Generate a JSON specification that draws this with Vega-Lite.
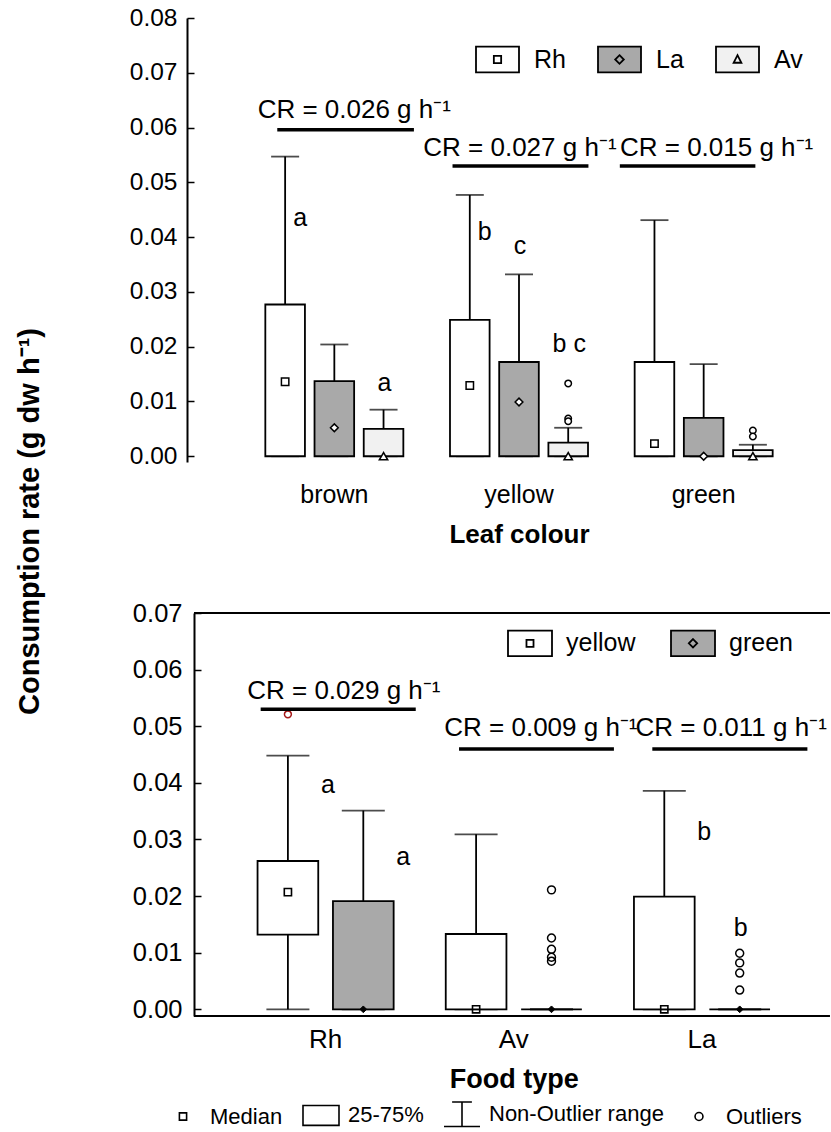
{
  "$schema": "https://vega.github.io/schema/vega-lite/v6.json",
  "padding": {"left": 16, "top": 5, "right": 0, "bottom": 0},
  "background": "white",
  "config": {
    "font": "Liberation Sans",
    "view": {"stroke": null},
    "axis": {"labelFont": "Liberation Sans", "titleFont": "Liberation Sans"},
    "legend": {"labelFont": "Liberation Sans"}
  },
  "title": {"text": "Consumption rate (g dw h⁻¹)", "orient": "left", "anchor": "middle", "fontSize": 29, "fontWeight": "bold", "color": "black", "offset": 84, "dx": 46, "font": "Liberation Sans"},
  "datasets": {
    "top": [
      {"group": "brown", "series": "Rh", "lo": 0, "q1": 0, "med": 0.0136, "q3": 0.0277, "hi": 0.0547},
      {"group": "brown", "series": "La", "lo": 0, "q1": 0, "med": 0.0052, "q3": 0.0137, "hi": 0.0204},
      {"group": "brown", "series": "Av", "lo": 0, "q1": 0, "med": 0, "q3": 0.0050, "hi": 0.0085},
      {"group": "yellow", "series": "Rh", "lo": 0, "q1": 0, "med": 0.0129, "q3": 0.0249, "hi": 0.0477},
      {"group": "yellow", "series": "La", "lo": 0, "q1": 0, "med": 0.0099, "q3": 0.0172, "hi": 0.0332},
      {"group": "yellow", "series": "Av", "lo": 0, "q1": 0, "med": 0, "q3": 0.0025, "hi": 0.0052},
      {"group": "green", "series": "Rh", "lo": 0, "q1": 0, "med": 0.0023, "q3": 0.0172, "hi": 0.0431},
      {"group": "green", "series": "La", "lo": 0, "q1": 0, "med": 0, "q3": 0.0070, "hi": 0.0168},
      {"group": "green", "series": "Av", "lo": 0, "q1": 0, "med": 0, "q3": 0.0011, "hi": 0.0021}
    ],
    "topOut": [
      {"group": "yellow", "series": "Av", "v": 0.0133},
      {"group": "yellow", "series": "Av", "v": 0.0069},
      {"group": "yellow", "series": "Av", "v": 0.0064},
      {"group": "green", "series": "Av", "v": 0.0047},
      {"group": "green", "series": "Av", "v": 0.0036}
    ],
    "topLettersR": [
      {"group": "brown", "series": "Rh", "v": 0.0435, "t": "a"},
      {"group": "yellow", "series": "Rh", "v": 0.0409, "t": "b"}
    ],
    "topLettersC": [
      {"group": "brown", "series": "Av", "v": 0.0134, "t": "a"},
      {"group": "yellow", "series": "La", "v": 0.0384, "t": "c"},
      {"group": "yellow", "series": "Av", "v": 0.0205, "t": "b c"}
    ],
    "bot": [
      {"group": "Rh", "leaf": "yellow", "lo": 0, "q1": 0.0132, "med": 0.0207, "q3": 0.0262, "hi": 0.0448},
      {"group": "Rh", "leaf": "green", "lo": 0, "q1": 0, "med": 0, "q3": 0.0191, "hi": 0.0351},
      {"group": "Av", "leaf": "yellow", "lo": 0, "q1": 0, "med": 0, "q3": 0.0133, "hi": 0.0309},
      {"group": "Av", "leaf": "green", "lo": 0, "q1": 0, "med": 0, "q3": 0, "hi": 0},
      {"group": "La", "leaf": "yellow", "lo": 0, "q1": 0, "med": 0, "q3": 0.0199, "hi": 0.0386},
      {"group": "La", "leaf": "green", "lo": 0, "q1": 0, "med": 0, "q3": 0, "hi": 0}
    ],
    "botOut": [
      {"group": "Av", "leaf": "green", "v": 0.0211},
      {"group": "Av", "leaf": "green", "v": 0.0126},
      {"group": "Av", "leaf": "green", "v": 0.0106},
      {"group": "Av", "leaf": "green", "v": 0.0092},
      {"group": "Av", "leaf": "green", "v": 0.0085},
      {"group": "La", "leaf": "green", "v": 0.0099},
      {"group": "La", "leaf": "green", "v": 0.0082},
      {"group": "La", "leaf": "green", "v": 0.0064},
      {"group": "La", "leaf": "green", "v": 0.0034}
    ],
    "botOutRed": [
      {"group": "Rh", "leaf": "yellow", "v": 0.0521}
    ],
    "botLettersR": [
      {"group": "Rh", "leaf": "yellow", "v": 0.0396, "t": "a"},
      {"group": "Rh", "leaf": "green", "v": 0.0269, "t": "a"},
      {"group": "La", "leaf": "yellow", "v": 0.0313, "t": "b"}
    ],
    "botLettersC": [
      {"group": "La", "leaf": "green", "v": 0.0144, "t": "b"}
    ],
    "botFrame": [
      {"g1": "Rh", "g2": "La", "v": 0.07},
      {"g1": "Rh", "g2": "La", "v": -0.00118}
    ]
  },
  "concat": [
    {
      "width": 644,
      "height": 444,
      "layer": [
        {
          "data": {"name": "top"},
          "mark": {"type": "rule", "color": "black", "strokeWidth": 1.8},
          "encoding": {
            "x": {"field": "group", "type": "nominal", "title": "Leaf colour", "scale": {"domain": ["brown", "yellow", "green"], "range": [55, 609], "paddingInner": 0, "paddingOuter": 0}, "axis": {"domain": false, "ticks": false, "labelFontSize": 25, "labelPadding": 20, "labelAngle": 0, "titleFontSize": 26, "titleFontWeight": "bold", "titlePadding": 14, "labelColor": "black", "titleColor": "black"}},
            "xOffset": {"field": "series", "type": "nominal", "scale": {"domain": ["Rh", "La", "Av"], "paddingInner": 0.195, "paddingOuter": 0.474}},
            "y": {"field": "lo", "type": "quantitative", "title": null, "scale": {"domain": [-0.00105, 0.08], "nice": false, "zero": false}, "axis": {"values": [0, 0.005, 0.01, 0.015, 0.02, 0.025, 0.03, 0.035, 0.04, 0.045, 0.05, 0.055, 0.06, 0.065, 0.07, 0.075, 0.08], "labelExpr": "(abs(datum.value * 100 - round(datum.value * 100)) < 0.001) ? format(datum.value, '.2f') : ''", "tickSize": -7, "tickWidth": 1.5, "domainWidth": 2, "labelFontSize": 24.5, "labelPadding": 17, "grid": false, "labelColor": "black", "tickColor": "black", "domainColor": "black"}},
            "y2": {"field": "hi"}
          }
        },
        {
          "data": {"name": "top"},
          "mark": {"type": "tick", "orient": "horizontal", "size": 28, "thickness": 1.8, "color": "black"},
          "encoding": {
            "x": {"field": "group", "type": "nominal", "title": "Leaf colour", "scale": {"domain": ["brown", "yellow", "green"], "range": [55, 609], "paddingInner": 0, "paddingOuter": 0}},
            "xOffset": {"field": "series", "type": "nominal", "scale": {"domain": ["Rh", "La", "Av"], "paddingInner": 0.195, "paddingOuter": 0.474}},
            "y": {"field": "hi", "type": "quantitative", "title": null, "scale": {"domain": [-0.00105, 0.08], "nice": false, "zero": false}}
          }
        },
        {
          "data": {"name": "top"},
          "mark": {"type": "tick", "orient": "horizontal", "size": 28, "thickness": 1.8, "color": "black"},
          "encoding": {
            "x": {"field": "group", "type": "nominal", "title": "Leaf colour", "scale": {"domain": ["brown", "yellow", "green"], "range": [55, 609], "paddingInner": 0, "paddingOuter": 0}},
            "xOffset": {"field": "series", "type": "nominal", "scale": {"domain": ["Rh", "La", "Av"], "paddingInner": 0.195, "paddingOuter": 0.474}},
            "y": {"field": "lo", "type": "quantitative", "title": null, "scale": {"domain": [-0.00105, 0.08], "nice": false, "zero": false}}
          }
        },
        {
          "data": {"name": "top"},
          "mark": {"type": "bar", "stroke": "black", "strokeWidth": 1.8},
          "encoding": {
            "x": {"field": "group", "type": "nominal", "title": "Leaf colour", "scale": {"domain": ["brown", "yellow", "green"], "range": [55, 609], "paddingInner": 0, "paddingOuter": 0}},
            "xOffset": {"field": "series", "type": "nominal", "scale": {"domain": ["Rh", "La", "Av"], "paddingInner": 0.195, "paddingOuter": 0.474}},
            "y": {"field": "q1", "type": "quantitative", "title": null, "scale": {"domain": [-0.00105, 0.08], "nice": false, "zero": false}},
            "y2": {"field": "q3"},
            "fill": {"field": "series", "type": "nominal", "scale": {"domain": ["Rh", "La", "Av"], "range": ["#ffffff", "#a9a9a9", "#f1f1f1"]},
              "legend": {"orient": "none", "legendX": 288, "legendY": 19, "direction": "horizontal", "title": null, "symbolSize": 1849, "labelFontSize": 25, "labelOffset": 14, "columnPadding": 28, "padding": 0, "labelColor": "black", "symbolStrokeColor": "black", "symbolStrokeWidth": 1.8,
                "encode": {"symbols": {"update": {"stroke": {"value": "black"}, "strokeWidth": {"value": 1.8}, "shape": {"signal": "datum.value === 'Rh' ? 'M-1,-0.6H1V0.6H-1Z M-0.17,-0.17H0.17V0.17H-0.17Z' : (datum.value === 'La' ? 'M-1,-0.6H1V0.6H-1Z M0,-0.2L0.2,0L0,0.2L-0.2,0Z' : 'M-1,-0.6H1V0.6H-1Z M0,-0.2L0.18,0.15H-0.18Z')"}}}}}}
          }
        },
        {
          "data": {"name": "top"},
          "transform": [{"filter": "datum.series === 'Rh'"}],
          "mark": {"type": "point", "shape": "square", "filled": true, "fill": "white", "stroke": "black", "strokeWidth": 1.5, "size": 55, "opacity": 1},
          "encoding": {
            "x": {"field": "group", "type": "nominal", "title": "Leaf colour", "scale": {"domain": ["brown", "yellow", "green"], "range": [55, 609], "paddingInner": 0, "paddingOuter": 0}},
            "xOffset": {"field": "series", "type": "nominal", "scale": {"domain": ["Rh", "La", "Av"], "paddingInner": 0.195, "paddingOuter": 0.474}},
            "y": {"field": "med", "type": "quantitative", "title": null, "scale": {"domain": [-0.00105, 0.08], "nice": false, "zero": false}}
          }
        },
        {
          "data": {"name": "top"},
          "transform": [{"filter": "datum.series === 'La'"}],
          "mark": {"type": "point", "shape": "diamond", "filled": true, "fill": "white", "stroke": "black", "strokeWidth": 1.5, "size": 60, "opacity": 1},
          "encoding": {
            "x": {"field": "group", "type": "nominal", "title": "Leaf colour", "scale": {"domain": ["brown", "yellow", "green"], "range": [55, 609], "paddingInner": 0, "paddingOuter": 0}},
            "xOffset": {"field": "series", "type": "nominal", "scale": {"domain": ["Rh", "La", "Av"], "paddingInner": 0.195, "paddingOuter": 0.474}},
            "y": {"field": "med", "type": "quantitative", "title": null, "scale": {"domain": [-0.00105, 0.08], "nice": false, "zero": false}}
          }
        },
        {
          "data": {"name": "top"},
          "transform": [{"filter": "datum.series === 'Av'"}],
          "mark": {"type": "point", "shape": "triangle-up", "filled": true, "fill": "white", "stroke": "black", "strokeWidth": 1.5, "size": 70, "opacity": 1},
          "encoding": {
            "x": {"field": "group", "type": "nominal", "title": "Leaf colour", "scale": {"domain": ["brown", "yellow", "green"], "range": [55, 609], "paddingInner": 0, "paddingOuter": 0}},
            "xOffset": {"field": "series", "type": "nominal", "scale": {"domain": ["Rh", "La", "Av"], "paddingInner": 0.195, "paddingOuter": 0.474}},
            "y": {"field": "med", "type": "quantitative", "title": null, "scale": {"domain": [-0.00105, 0.08], "nice": false, "zero": false}}
          }
        },
        {
          "data": {"name": "topOut"},
          "mark": {"type": "point", "shape": "circle", "filled": true, "fill": "white", "stroke": "black", "strokeWidth": 1.5, "size": 42, "opacity": 1},
          "encoding": {
            "x": {"field": "group", "type": "nominal", "title": "Leaf colour", "scale": {"domain": ["brown", "yellow", "green"], "range": [55, 609], "paddingInner": 0, "paddingOuter": 0}},
            "xOffset": {"field": "series", "type": "nominal", "scale": {"domain": ["Rh", "La", "Av"], "paddingInner": 0.195, "paddingOuter": 0.474}},
            "y": {"field": "v", "type": "quantitative", "title": null, "scale": {"domain": [-0.00105, 0.08], "nice": false, "zero": false}}
          }
        },
        {
          "data": {"name": "topLettersR"},
          "mark": {"type": "text", "fontSize": 25, "dx": 15, "align": "center", "baseline": "middle", "color": "black"},
          "encoding": {
            "x": {"field": "group", "type": "nominal", "title": "Leaf colour", "scale": {"domain": ["brown", "yellow", "green"], "range": [55, 609], "paddingInner": 0, "paddingOuter": 0}},
            "xOffset": {"field": "series", "type": "nominal", "scale": {"domain": ["Rh", "La", "Av"], "paddingInner": 0.195, "paddingOuter": 0.474}},
            "y": {"field": "v", "type": "quantitative", "title": null, "scale": {"domain": [-0.00105, 0.08], "nice": false, "zero": false}},
            "text": {"field": "t"}
          }
        },
        {
          "data": {"name": "topLettersC"},
          "mark": {"type": "text", "fontSize": 25, "dx": 1, "align": "center", "baseline": "middle", "color": "black"},
          "encoding": {
            "x": {"field": "group", "type": "nominal", "title": "Leaf colour", "scale": {"domain": ["brown", "yellow", "green"], "range": [55, 609], "paddingInner": 0, "paddingOuter": 0}},
            "xOffset": {"field": "series", "type": "nominal", "scale": {"domain": ["Rh", "La", "Av"], "paddingInner": 0.195, "paddingOuter": 0.474}},
            "y": {"field": "v", "type": "quantitative", "title": null, "scale": {"domain": [-0.00105, 0.08], "nice": false, "zero": false}},
            "text": {"field": "t"}
          }
        },
        {
          "data": {"values": [{"group": "brown", "line": 0.0596, "ty": 0.0632, "cr": "CR = 0.026 g h⁻¹"}]},
          "layer": [
            {"mark": {"type": "rule", "color": "black", "strokeWidth": 3.5},
             "encoding": {
               "x": {"field": "group", "type": "nominal", "title": "Leaf colour", "bandPosition": 0.191, "scale": {"domain": ["brown", "yellow", "green"], "range": [55, 609], "paddingInner": 0, "paddingOuter": 0}},
               "x2": {"field": "group", "bandPosition": 0.931},
               "y": {"field": "line", "type": "quantitative", "title": null, "scale": {"domain": [-0.00105, 0.08], "nice": false, "zero": false}}}},
            {"mark": {"type": "text", "fontSize": 26, "align": "center", "baseline": "middle", "color": "black"},
             "encoding": {
               "x": {"field": "group", "type": "nominal", "title": "Leaf colour", "bandPosition": 0.608, "scale": {"domain": ["brown", "yellow", "green"], "range": [55, 609], "paddingInner": 0, "paddingOuter": 0}},
               "y": {"field": "ty", "type": "quantitative", "title": null, "scale": {"domain": [-0.00105, 0.08], "nice": false, "zero": false}},
               "text": {"field": "cr"}}}
          ]
        },
        {
          "data": {"values": [{"group": "yellow", "line": 0.0530, "ty": 0.0563, "cr": "CR = 0.027 g h⁻¹"}]},
          "layer": [
            {"mark": {"type": "rule", "color": "black", "strokeWidth": 3.5},
             "encoding": {
               "x": {"field": "group", "type": "nominal", "title": "Leaf colour", "bandPosition": 0.140, "scale": {"domain": ["brown", "yellow", "green"], "range": [55, 609], "paddingInner": 0, "paddingOuter": 0}},
               "x2": {"field": "group", "bandPosition": 0.876},
               "y": {"field": "line", "type": "quantitative", "title": null, "scale": {"domain": [-0.00105, 0.08], "nice": false, "zero": false}}}},
            {"mark": {"type": "text", "fontSize": 26, "align": "center", "baseline": "middle", "color": "black"},
             "encoding": {
               "x": {"field": "group", "type": "nominal", "title": "Leaf colour", "bandPosition": 0.505, "scale": {"domain": ["brown", "yellow", "green"], "range": [55, 609], "paddingInner": 0, "paddingOuter": 0}},
               "y": {"field": "ty", "type": "quantitative", "title": null, "scale": {"domain": [-0.00105, 0.08], "nice": false, "zero": false}},
               "text": {"field": "cr"}}}
          ]
        },
        {
          "data": {"values": [{"group": "green", "line": 0.0530, "ty": 0.0563, "cr": "CR = 0.015 g h⁻¹"}]},
          "layer": [
            {"mark": {"type": "rule", "color": "black", "strokeWidth": 3.5},
             "encoding": {
               "x": {"field": "group", "type": "nominal", "title": "Leaf colour", "bandPosition": 0.046, "scale": {"domain": ["brown", "yellow", "green"], "range": [55, 609], "paddingInner": 0, "paddingOuter": 0}},
               "x2": {"field": "group", "bandPosition": 0.780},
               "y": {"field": "line", "type": "quantitative", "title": null, "scale": {"domain": [-0.00105, 0.08], "nice": false, "zero": false}}}},
            {"mark": {"type": "text", "fontSize": 26, "align": "center", "baseline": "middle", "color": "black"},
             "encoding": {
               "x": {"field": "group", "type": "nominal", "title": "Leaf colour", "bandPosition": 0.57, "scale": {"domain": ["brown", "yellow", "green"], "range": [55, 609], "paddingInner": 0, "paddingOuter": 0}},
               "y": {"field": "ty", "type": "quantitative", "title": null, "scale": {"domain": [-0.00105, 0.08], "nice": false, "zero": false}},
               "text": {"field": "cr"}}}
          ]
        },
        {
          "mark": {"type": "rule", "color": "black", "strokeWidth": 1.6},
          "encoding": {"y": {"datum": 0.08, "type": "quantitative", "scale": {"domain": [-0.00105, 0.08], "nice": false, "zero": false}}}
        },
        {
          "mark": {"type": "rule", "color": "black", "strokeWidth": 2},
          "encoding": {"y": {"datum": -0.00105, "type": "quantitative", "scale": {"domain": [-0.00105, 0.08], "nice": false, "zero": false}}}
        }
      ]
    },
    {
      "width": 643,
      "height": 403,
      "layer": [
        {
          "data": {"name": "bot"},
          "mark": {"type": "rule", "color": "black", "strokeWidth": 1.8},
          "encoding": {
            "x": {"field": "group", "type": "nominal", "title": "Food type", "scale": {"domain": ["Rh", "Av", "La"], "range": [44.5, 609.1], "paddingInner": 0, "paddingOuter": 0}, "axis": {"domain": false, "ticks": false, "labelFontSize": 26, "labelPadding": 10, "labelAngle": 0, "titleFontSize": 27, "titleFontWeight": "bold", "titlePadding": 14, "labelColor": "black", "titleColor": "black"}},
            "xOffset": {"field": "leaf", "type": "nominal", "scale": {"domain": ["yellow", "green"], "paddingInner": 0.195, "paddingOuter": 0.3455}},
            "y": {"field": "lo", "type": "quantitative", "title": null, "scale": {"domain": [-0.00118, 0.07], "nice": false, "zero": false}, "axis": {"offset": -7, "values": [0, 0.005, 0.01, 0.015, 0.02, 0.025, 0.03, 0.035, 0.04, 0.045, 0.05, 0.055, 0.06, 0.065, 0.07], "labelExpr": "(abs(datum.value * 100 - round(datum.value * 100)) < 0.001) ? format(datum.value, '.2f') : ''", "tickSize": -7, "tickWidth": 1.5, "domainWidth": 2, "labelFontSize": 25.5, "labelPadding": 19, "grid": false, "labelColor": "black", "tickColor": "black", "domainColor": "black"}},
            "y2": {"field": "hi"}
          }
        },
        {
          "data": {"name": "bot"},
          "mark": {"type": "tick", "orient": "horizontal", "size": 43, "thickness": 1.8, "color": "black"},
          "encoding": {
            "x": {"field": "group", "type": "nominal", "title": "Food type", "scale": {"domain": ["Rh", "Av", "La"], "range": [44.5, 609.1], "paddingInner": 0, "paddingOuter": 0}},
            "xOffset": {"field": "leaf", "type": "nominal", "scale": {"domain": ["yellow", "green"], "paddingInner": 0.195, "paddingOuter": 0.3455}},
            "y": {"field": "hi", "type": "quantitative", "title": null, "scale": {"domain": [-0.00118, 0.07], "nice": false, "zero": false}}
          }
        },
        {
          "data": {"name": "bot"},
          "mark": {"type": "tick", "orient": "horizontal", "size": 43, "thickness": 1.8, "color": "black"},
          "encoding": {
            "x": {"field": "group", "type": "nominal", "title": "Food type", "scale": {"domain": ["Rh", "Av", "La"], "range": [44.5, 609.1], "paddingInner": 0, "paddingOuter": 0}},
            "xOffset": {"field": "leaf", "type": "nominal", "scale": {"domain": ["yellow", "green"], "paddingInner": 0.195, "paddingOuter": 0.3455}},
            "y": {"field": "lo", "type": "quantitative", "title": null, "scale": {"domain": [-0.00118, 0.07], "nice": false, "zero": false}}
          }
        },
        {
          "data": {"name": "bot"},
          "mark": {"type": "bar", "stroke": "black", "strokeWidth": 1.8},
          "encoding": {
            "x": {"field": "group", "type": "nominal", "title": "Food type", "scale": {"domain": ["Rh", "Av", "La"], "range": [44.5, 609.1], "paddingInner": 0, "paddingOuter": 0}},
            "xOffset": {"field": "leaf", "type": "nominal", "scale": {"domain": ["yellow", "green"], "paddingInner": 0.195, "paddingOuter": 0.3455}},
            "y": {"field": "q1", "type": "quantitative", "title": null, "scale": {"domain": [-0.00118, 0.07], "nice": false, "zero": false}},
            "y2": {"field": "q3"},
            "fill": {"field": "leaf", "type": "nominal", "scale": {"domain": ["yellow", "green"], "range": ["#ffffff", "#a9a9a9"]},
              "legend": {"orient": "none", "legendX": 320, "legendY": 7, "direction": "horizontal", "title": null, "symbolSize": 1936, "labelFontSize": 25, "labelOffset": 13, "columnPadding": 31, "padding": 0, "labelColor": "black", "symbolStrokeColor": "black", "symbolStrokeWidth": 1.8,
                "encode": {"symbols": {"update": {"stroke": {"value": "black"}, "strokeWidth": {"value": 1.8}, "shape": {"signal": "datum.value === 'yellow' ? 'M-1,-0.58H1V0.58H-1Z M-0.16,-0.16H0.16V0.16H-0.16Z' : 'M-1,-0.58H1V0.58H-1Z M0,-0.19L0.19,0L0,0.19L-0.19,0Z'"}}}}}}
          }
        },
        {
          "data": {"name": "bot"},
          "transform": [{"filter": "datum.leaf === 'yellow'"}],
          "mark": {"type": "point", "filled": false, "color": "black", "strokeWidth": 1.6, "size": 1296, "opacity": 1},
          "encoding": {
            "x": {"field": "group", "type": "nominal", "title": "Food type", "scale": {"domain": ["Rh", "Av", "La"], "range": [44.5, 609.1], "paddingInner": 0, "paddingOuter": 0}},
            "xOffset": {"field": "leaf", "type": "nominal", "scale": {"domain": ["yellow", "green"], "paddingInner": 0.195, "paddingOuter": 0.3455}},
            "y": {"field": "med", "type": "quantitative", "title": null, "scale": {"domain": [-0.00118, 0.07], "nice": false, "zero": false}},
            "shape": {"datum": "Median", "scale": {"domain": ["Median", "25-75%", "Non-Outlier range", "Outliers"], "range": ["M-0.2,-0.2H0.2V0.2H-0.2Z", "M-1,-0.55H1V0.55H-1Z", "M-0.55,-0.68H0.55M0,-0.68V0.68M-1,0.68H1", "M-0.22,0A0.22,0.22,0,1,0,0.22,0A0.22,0.22,0,1,0,-0.22,0Z"]},
              "legend": {"orient": "none", "legendX": -23, "legendY": 482, "direction": "horizontal", "title": null, "symbolSize": 1296, "labelFontSize": 22, "labelOffset": 8, "columnPadding": 16, "labelLimit": 400, "padding": 0, "labelColor": "black", "symbolStrokeColor": "black", "symbolStrokeWidth": 1.6, "symbolOpacity": 1}}
          }
        },
        {
          "data": {"name": "bot"},
          "transform": [{"filter": "datum.leaf === 'green'"}],
          "mark": {"type": "point", "shape": "diamond", "filled": true, "fill": "black", "stroke": "black", "strokeWidth": 1, "size": 45, "opacity": 1},
          "encoding": {
            "x": {"field": "group", "type": "nominal", "title": "Food type", "scale": {"domain": ["Rh", "Av", "La"], "range": [44.5, 609.1], "paddingInner": 0, "paddingOuter": 0}},
            "xOffset": {"field": "leaf", "type": "nominal", "scale": {"domain": ["yellow", "green"], "paddingInner": 0.195, "paddingOuter": 0.3455}},
            "y": {"field": "med", "type": "quantitative", "title": null, "scale": {"domain": [-0.00118, 0.07], "nice": false, "zero": false}}
          }
        },
        {
          "data": {"name": "botOut"},
          "mark": {"type": "point", "filled": false, "color": "black", "strokeWidth": 1.5, "size": 1296, "opacity": 1},
          "encoding": {
            "x": {"field": "group", "type": "nominal", "title": "Food type", "scale": {"domain": ["Rh", "Av", "La"], "range": [44.5, 609.1], "paddingInner": 0, "paddingOuter": 0}},
            "xOffset": {"field": "leaf", "type": "nominal", "scale": {"domain": ["yellow", "green"], "paddingInner": 0.195, "paddingOuter": 0.3455}},
            "y": {"field": "v", "type": "quantitative", "title": null, "scale": {"domain": [-0.00118, 0.07], "nice": false, "zero": false}},
            "shape": {"datum": "Outliers", "scale": {"domain": ["Median", "25-75%", "Non-Outlier range", "Outliers"], "range": ["M-0.2,-0.2H0.2V0.2H-0.2Z", "M-1,-0.55H1V0.55H-1Z", "M-0.55,-0.68H0.55M0,-0.68V0.68M-1,0.68H1", "M-0.22,0A0.22,0.22,0,1,0,0.22,0A0.22,0.22,0,1,0,-0.22,0Z"]}}
          }
        },
        {
          "data": {"name": "botOutRed"},
          "mark": {"type": "point", "shape": "circle", "filled": true, "fill": "white", "stroke": "#a51a1a", "strokeWidth": 1.5, "size": 48, "opacity": 1},
          "encoding": {
            "x": {"field": "group", "type": "nominal", "title": "Food type", "scale": {"domain": ["Rh", "Av", "La"], "range": [44.5, 609.1], "paddingInner": 0, "paddingOuter": 0}},
            "xOffset": {"field": "leaf", "type": "nominal", "scale": {"domain": ["yellow", "green"], "paddingInner": 0.195, "paddingOuter": 0.3455}},
            "y": {"field": "v", "type": "quantitative", "title": null, "scale": {"domain": [-0.00118, 0.07], "nice": false, "zero": false}}
          }
        },
        {
          "data": {"name": "botLettersR"},
          "mark": {"type": "text", "fontSize": 25, "dx": 40, "align": "center", "baseline": "middle", "color": "black"},
          "encoding": {
            "x": {"field": "group", "type": "nominal", "title": "Food type", "scale": {"domain": ["Rh", "Av", "La"], "range": [44.5, 609.1], "paddingInner": 0, "paddingOuter": 0}},
            "xOffset": {"field": "leaf", "type": "nominal", "scale": {"domain": ["yellow", "green"], "paddingInner": 0.195, "paddingOuter": 0.3455}},
            "y": {"field": "v", "type": "quantitative", "title": null, "scale": {"domain": [-0.00118, 0.07], "nice": false, "zero": false}},
            "text": {"field": "t"}
          }
        },
        {
          "data": {"name": "botLettersC"},
          "mark": {"type": "text", "fontSize": 25, "dx": 1, "align": "center", "baseline": "middle", "color": "black"},
          "encoding": {
            "x": {"field": "group", "type": "nominal", "title": "Food type", "scale": {"domain": ["Rh", "Av", "La"], "range": [44.5, 609.1], "paddingInner": 0, "paddingOuter": 0}},
            "xOffset": {"field": "leaf", "type": "nominal", "scale": {"domain": ["yellow", "green"], "paddingInner": 0.195, "paddingOuter": 0.3455}},
            "y": {"field": "v", "type": "quantitative", "title": null, "scale": {"domain": [-0.00118, 0.07], "nice": false, "zero": false}},
            "text": {"field": "t"}
          }
        },
        {
          "data": {"values": [{"group": "Rh", "line": 0.0530, "ty": 0.0562, "cr": "CR = 0.029 g h⁻¹"}]},
          "layer": [
            {"mark": {"type": "rule", "color": "black", "strokeWidth": 3.5},
             "encoding": {
               "x": {"field": "group", "type": "nominal", "title": "Food type", "bandPosition": 0.155, "scale": {"domain": ["Rh", "Av", "La"], "range": [44.5, 609.1], "paddingInner": 0, "paddingOuter": 0}},
               "x2": {"field": "group", "bandPosition": 0.979},
               "y": {"field": "line", "type": "quantitative", "title": null, "scale": {"domain": [-0.00118, 0.07], "nice": false, "zero": false}}}},
            {"mark": {"type": "text", "fontSize": 26, "align": "center", "baseline": "middle", "color": "black"},
             "encoding": {
               "x": {"field": "group", "type": "nominal", "title": "Food type", "bandPosition": 0.597, "scale": {"domain": ["Rh", "Av", "La"], "range": [44.5, 609.1], "paddingInner": 0, "paddingOuter": 0}},
               "y": {"field": "ty", "type": "quantitative", "title": null, "scale": {"domain": [-0.00118, 0.07], "nice": false, "zero": false}},
               "text": {"field": "cr"}}}
          ]
        },
        {
          "data": {"values": [{"group": "Av", "line": 0.0460, "ty": 0.0497, "cr": "CR = 0.009 g h⁻¹"}]},
          "layer": [
            {"mark": {"type": "rule", "color": "black", "strokeWidth": 3.5},
             "encoding": {
               "x": {"field": "group", "type": "nominal", "title": "Food type", "bandPosition": 0.209, "scale": {"domain": ["Rh", "Av", "La"], "range": [44.5, 609.1], "paddingInner": 0, "paddingOuter": 0}},
               "x2": {"field": "group", "bandPosition": 1.032},
               "y": {"field": "line", "type": "quantitative", "title": null, "scale": {"domain": [-0.00118, 0.07], "nice": false, "zero": false}}}},
            {"mark": {"type": "text", "fontSize": 26, "align": "center", "baseline": "middle", "color": "black"},
             "encoding": {
               "x": {"field": "group", "type": "nominal", "title": "Food type", "bandPosition": 0.644, "scale": {"domain": ["Rh", "Av", "La"], "range": [44.5, 609.1], "paddingInner": 0, "paddingOuter": 0}},
               "y": {"field": "ty", "type": "quantitative", "title": null, "scale": {"domain": [-0.00118, 0.07], "nice": false, "zero": false}},
               "text": {"field": "cr"}}}
          ]
        },
        {
          "data": {"values": [{"group": "La", "line": 0.0460, "ty": 0.0497, "cr": "CR = 0.011 g h⁻¹"}]},
          "layer": [
            {"mark": {"type": "rule", "color": "black", "strokeWidth": 3.5},
             "encoding": {
               "x": {"field": "group", "type": "nominal", "title": "Food type", "bandPosition": 0.236, "scale": {"domain": ["Rh", "Av", "La"], "range": [44.5, 609.1], "paddingInner": 0, "paddingOuter": 0}},
               "x2": {"field": "group", "bandPosition": 1.06},
               "y": {"field": "line", "type": "quantitative", "title": null, "scale": {"domain": [-0.00118, 0.07], "nice": false, "zero": false}}}},
            {"mark": {"type": "text", "fontSize": 26, "align": "center", "baseline": "middle", "color": "black"},
             "encoding": {
               "x": {"field": "group", "type": "nominal", "title": "Food type", "bandPosition": 0.655, "scale": {"domain": ["Rh", "Av", "La"], "range": [44.5, 609.1], "paddingInner": 0, "paddingOuter": 0}},
               "y": {"field": "ty", "type": "quantitative", "title": null, "scale": {"domain": [-0.00118, 0.07], "nice": false, "zero": false}},
               "text": {"field": "cr"}}}
          ]
        },
        {
          "data": {"name": "botFrame"},
          "mark": {"type": "rule", "color": "black", "strokeWidth": 2},
          "encoding": {
            "x": {"field": "g1", "type": "nominal", "title": "Food type", "bandPosition": -0.1993, "scale": {"domain": ["Rh", "Av", "La"], "range": [44.5, 609.1], "paddingInner": 0, "paddingOuter": 0}},
            "x2": {"field": "g2", "bandPosition": 1.18},
            "y": {"field": "v", "type": "quantitative", "title": null, "scale": {"domain": [-0.00118, 0.07], "nice": false, "zero": false}}
          }
        }
      ]
    }
  ],
  "columns": 1,
  "align": "none",
  "bounds": "full",
  "spacing": 54,
  "resolve": {"scale": {"x": "independent", "y": "independent", "xOffset": "independent", "fill": "independent", "shape": "independent"}, "legend": {"fill": "independent", "shape": "independent"}}
}
